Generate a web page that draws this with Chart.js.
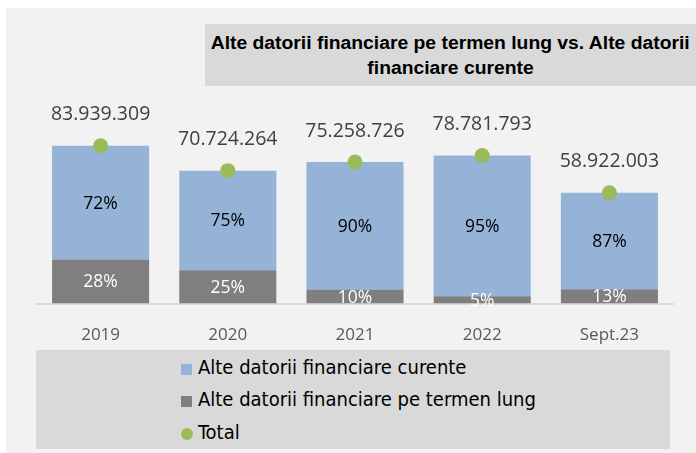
<!DOCTYPE html>
<html>
<head>
<meta charset="utf-8">
<script src="https://cdn.jsdelivr.net/npm/chart.js@4.4.0/dist/chart.umd.min.js"></script>
<style>
	body { margin: 0; background: #ffffff; }
	#wrap { position: relative; width: 696px; height: 453px; overflow: hidden; }
	#bg { position: absolute; left: 6px; top: 8px; width: 690px; height: 445px; background: #f2f2f2; }
	#title {
		position: absolute; left: 205px; top: 24px; width: 491px; height: 62px;
		background: #d9d9d9; text-align: center; box-sizing: border-box; padding-top: 7px;
		font-family: "Liberation Sans", Arial, sans-serif;
		font-weight: bold; font-size: 18px; line-height: 25px; color: #000;
	}
	#title span { display: inline-block; white-space: nowrap; transform-origin: center; }
	#legend {
		position: absolute; left: 36px; top: 350px; width: 634px; height: 99px;
		background: #d9d9d9;
		font-family: "Liberation Sans Narrow", "DejaVu Sans Condensed", sans-serif;
		font-size: 20px; color: #000;
	}
	.item { position: absolute; left: 145px; height: 24px; line-height: 24px; white-space: nowrap; }
	.box { display: inline-block; width: 11px; height: 11px; margin-right: 6px; vertical-align: -1px; }
	.dot { display: inline-block; width: 12px; height: 12px; border-radius: 50%; margin-right: 5px; vertical-align: -1px; }
	canvas { position: absolute; left: 0; top: 0; }
</style>
</head>
<body>
<div id="wrap">
	<div id="bg"></div>
	<div id="title"><span id="t1">Alte datorii financiare pe termen lung vs. Alte datorii</span><br><span id="t2">financiare curente</span></div>
	<div id="legend"></div>
	<canvas id="myChart" width="696" height="365"></canvas>
</div>
<script>
var categories = ["2019", "2020", "2021", "2022", "Sept.23"];
var termenLung = [23503000, 17681000, 7526000, 3939000, 7660000];
var curente = [60436309, 53043264, 67732726, 74842793, 51262003];
var totals = [83939309, 70724264, 75258726, 78781793, 58922003];

var seriesNames = ["Alte datorii financiare curente", "Alte datorii financiare pe termen lung", "Total"];
var blue = "#95b3d7";
var gray = "#7f7f7f";
var green = "#9bbb59";

function fmt(n){
	return String(n).replace(/\B(?=(\d{3})+(?!\d))/g, ".");
}

// squeeze the title so it looks like the narrow font of the original
var t1 = document.getElementById("t1");
var t2 = document.getElementById("t2");
var sc = 479 / t1.getBoundingClientRect().width;
t1.style.transform = "scaleX(" + sc + ")";
t2.style.transform = "scaleX(" + sc + ")";

// legend as html, one row per series
var legend = document.getElementById("legend");
var rows = [[blue, "box", 5], [gray, "box", 37], [green, "dot", 70]];
for(var x = 0; x < rows.length; x++)
{
	var d = document.createElement("div");
	d.className = "item";
	d.style.top = rows[x][2] + "px";
	d.innerHTML = '<span class="' + rows[x][1] + '" style="background:' + rows[x][0] + '"></span>' + seriesNames[x];
	legend.appendChild(d);
}

var labelPlugin = {
	id: "labels",
	afterDatasetsDraw: function(chart){
		var ctx = chart.ctx;
		var lung = chart.getDatasetMeta(0).data;
		var cur = chart.getDatasetMeta(1).data;
		var tot = chart.getDatasetMeta(2).data;
		ctx.save();
		ctx.textAlign = "center";
		ctx.textBaseline = "middle";
		for(var i = 0; i < categories.length; i++)
		{
			var pl = Math.round(termenLung[i] / totals[i] * 100);
			var pc = Math.round(curente[i] / totals[i] * 100);
			ctx.font = "17.5px 'Open Sans'";
			ctx.fillStyle = "#ffffff";
			ctx.fillText(pl + "%", lung[i].x, (lung[i].y + lung[i].base) / 2 + 1);
			ctx.fillStyle = "#000000";
			ctx.fillText(pc + "%", cur[i].x, (cur[i].y + cur[i].base) / 2 + 1);
			ctx.font = "19.5px 'Open Sans'";
			ctx.fillStyle = "#404040";
			ctx.fillText(fmt(totals[i]), tot[i].x, tot[i].y - 31);
		}
		ctx.restore();
	}
};

var mChart = new Chart(document.getElementById("myChart"), {
	type: "bar",
	data: {
		labels: categories,
		datasets: [
			{ label: seriesNames[1], data: termenLung, backgroundColor: gray, stack: "s", order: 2 },
			{ label: seriesNames[0], data: curente, backgroundColor: blue, stack: "s", order: 2 },
			{ type: "line", label: seriesNames[2], data: totals, stack: "t", showLine: false,
				pointRadius: 7.5, pointBackgroundColor: green, pointBorderWidth: 0, borderColor: green, order: 1 }
		]
	},
	options: {
		responsive: false,
		animation: false,
		layout: { padding: { top: 115.6, left: 37, right: 23, bottom: 7 } },
		datasets: { bar: { categoryPercentage: 1, barPercentage: 0.763 } },
		plugins: { legend: { display: false }, tooltip: { enabled: false } },
		scales: {
			x: {
				stacked: true,
				grid: { display: false },
				border: { display: true, color: "#d9d9d9", width: 2 },
				ticks: { color: "#595959", font: { family: "'Open Sans'", size: 17 }, padding: 13 }
			},
			y: { stacked: true, display: false, min: 0, max: 100000000 }
		}
	},
	plugins: [labelPlugin]
});
</script>
</body>
</html>
